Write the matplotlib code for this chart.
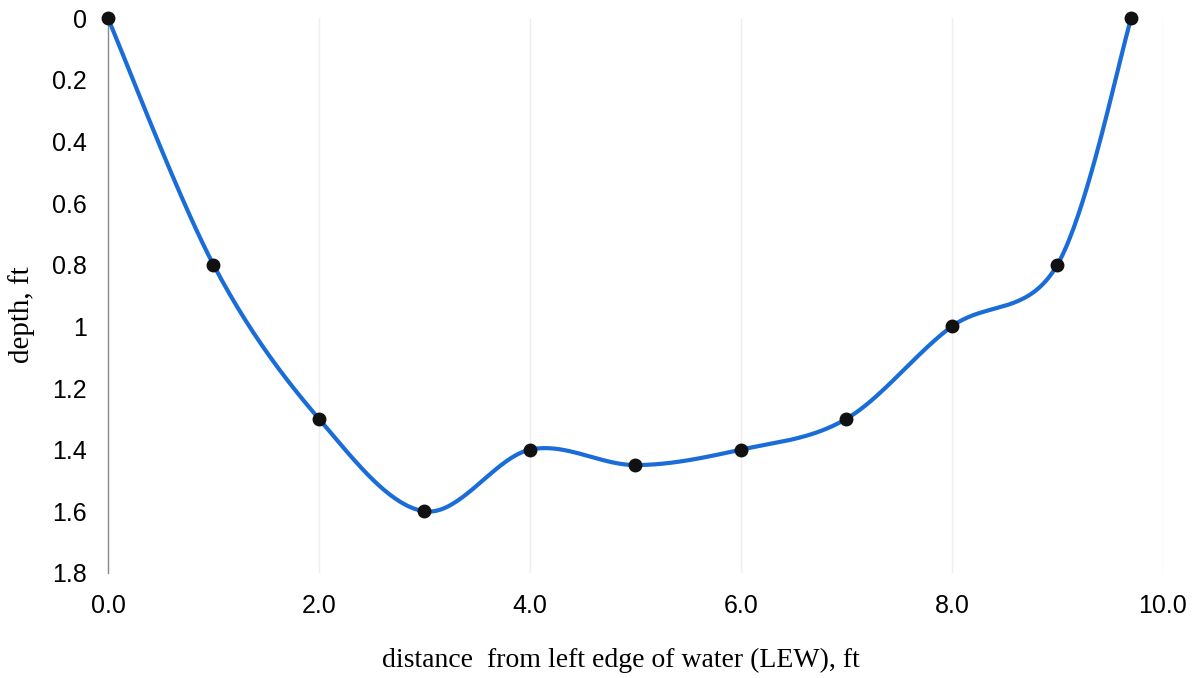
import numpy as np
import matplotlib
matplotlib.use('Agg')
import matplotlib.pyplot as plt

# station distance from LEW (ft) and measured depth (ft)
distance = [0.0, 1.0, 2.0, 3.0, 4.0, 5.0, 6.0, 7.0, 8.0, 9.0, 9.7]
depth = [0.0, 0.8, 1.3, 1.6, 1.4, 1.45, 1.4, 1.3, 1.0, 0.8, 0.0]
xticks = [0, 2, 4, 6, 8, 10]
yticks = [0, 0.2, 0.4, 0.6, 0.8, 1, 1.2, 1.4, 1.6, 1.8]


def smooth(x, y, n=40):
    # spreadsheet-style smoothed line (Catmull-Rom through the points)
    p = np.column_stack([x, y]).astype(float)
    p = np.vstack([p[0], p, p[-1]])
    out = []
    t = np.linspace(0, 1, n)[:, None]
    for i in range(1, len(p) - 2):
        p0, p1, p2, p3 = p[i - 1], p[i], p[i + 1], p[i + 2]
        c1 = p1 + (p2 - p0) / 6.
        c2 = p2 - (p3 - p1) / 6.
        seg = ((1 - t) ** 3 * p1 + 3 * (1 - t) ** 2 * t * c1
               + 3 * (1 - t) * t ** 2 * c2 + t ** 3 * p2)
        out.append(seg)
    out = np.vstack(out)
    return out[:, 0], out[:, 1]


fig = plt.figure(figsize=(12, 6.78), dpi=100)
ax = fig.add_axes([0.09, 0.155, 0.879, 0.818])

for xv in xticks[1:]:
    ax.axvline(xv, color='#eeeeee', lw=1.0, zorder=0)

sx, sy = smooth(distance, depth)
ax.plot(sx, sy, color='#1a6dd8', lw=3.0, solid_capstyle='round', zorder=2,
        clip_on=False)
ax.plot(distance, depth, 'o', color='#111111', ms=9, zorder=3, clip_on=False)

ax.set_xlim(0, 10)
ax.set_ylim(1.8, 0)
ax.set_xticks(xticks)
ax.set_xticklabels(['%.1f' % v for v in xticks])
ax.set_yticks(yticks)
ax.set_yticklabels(['%g' % v for v in yticks])
ax.tick_params(length=0, labelsize=18)
ax.tick_params(axis='y', pad=15)
ax.tick_params(axis='x', pad=15)
for lab in ax.get_xticklabels() + ax.get_yticklabels():
    lab.set_family('Liberation Sans')

for s in ['top', 'right', 'bottom']:
    ax.spines[s].set_visible(False)
ax.spines['left'].set_color('#888888')
ax.spines['left'].set_linewidth(1.0)

ax.set_xlabel('distance  from left edge of water (LEW), ft', family='Liberation Serif',
              fontsize=20)
ax.set_ylabel('depth, ft', family='Liberation Serif', fontsize=21)
ax.xaxis.set_label_coords(0.486, -0.136)
ax.yaxis.set_label_coords(-0.069, 0.465)

fig.savefig('out.png', dpi=100)
